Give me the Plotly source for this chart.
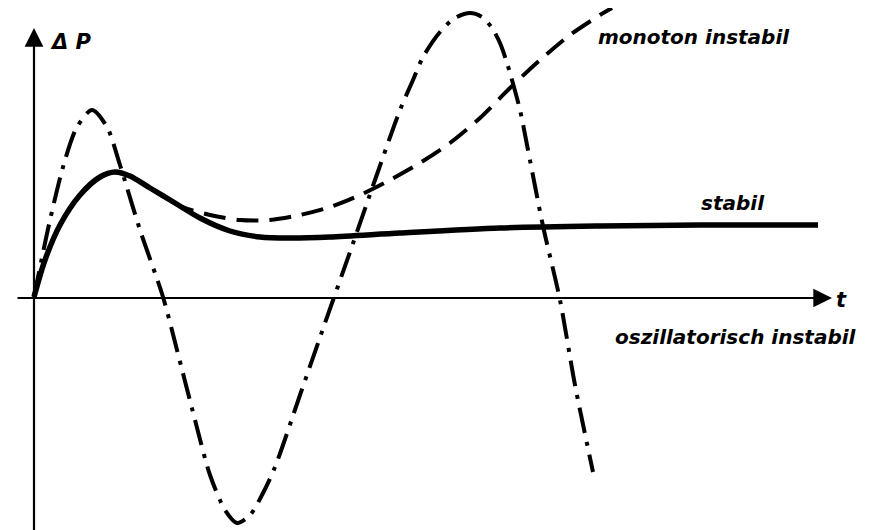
import plotly.graph_objects as go

# Stable response
t_stabil = [0, 1.1, 2.6, 4.6, 6.6, 8.1, 9.6, 11.6, 14.1, 16.6, 19.6, 22.6, 25.6, 29.6, 36.6, 46.6, 56.6, 66.6, 78.4]
p_stabil = [0, 3.7, 7.2, 10.2, 12.0, 12.5, 12.1, 10.9, 9.4, 7.9, 6.6, 6.0, 5.9, 6.0, 6.4, 6.9, 7.1, 7.2, 7.2]

# Monotonically unstable response
t_monoton = [8.1, 9.6, 11.6, 14.6, 17.6, 20.6, 23.6, 26.6, 29.6, 32.6, 35.6, 38.6, 41.6, 44.6, 47.6, 50.6, 53.6, 56.6, 57.8]
p_monoton = [12.5, 12.1, 10.9, 9.1, 8.2, 7.7, 7.7, 8.2, 9.0, 10.2, 11.7, 13.4, 15.4, 17.9, 20.9, 23.7, 26.2, 28.2, 28.9]

# Oscillatory unstable response
t_osz = [0, 1.6, 3.1, 4.3, 5.8, 7.3, 8.6, 10.6, 12.9, 14.3, 16.1, 17.6, 19.1, 20.3, 21.6, 22.8, 24.1,
         26.6, 29.1, 31.6, 34.1, 36.6, 37.9, 38.9, 40.6, 42.1, 43.6, 44.8, 45.8, 46.6, 47.3, 48.6,
         49.4, 50.9, 52.6, 54.1, 55.9]
p_osz = [0, 7.7, 13.7, 17.0, 18.7, 17.0, 13.2, 6.7, 0, -5.3, -12.3, -17.8, -21.3, -22.6, -21.8, -19.8, -17.0,
         -9.8, -2.6, 4.5, 11.7, 18.7, 21.7, 24.0, 26.5, 27.9, 28.4, 28.0, 26.9, 25.4, 23.4, 18.7,
         14.7, 7.1, -0.3, -8.8, -17.5]

labels = ["stabil", "monoton instabil", "oszillatorisch instabil"]

# page body has an 8px margin, so the visible window starts 8px into the figure
X_RANGE = [-2.6, 85.4]
Y_RANGE = [-24.1, 28.9]

fig = go.Figure()
fig.add_trace(go.Scatter(x=t_osz, y=p_osz, mode="lines", line=dict(color="black", width=4,
                         dash="26px,9px,4px,9px", shape="spline", smoothing=0.8), name=labels[2]))
fig.add_trace(go.Scatter(x=t_monoton, y=p_monoton, mode="lines", line=dict(color="black", width=4,
                         dash="22px,11px", shape="spline", smoothing=0.8), name=labels[1]))
fig.add_trace(go.Scatter(x=t_stabil, y=p_stabil, mode="lines", line=dict(color="black", width=5.5,
                         shape="spline", smoothing=0.8), name=labels[0]))

font = dict(family="DejaVu Sans", size=20, color="black")
ann = [
    # vertical axis arrow
    dict(x=0, y=26.9, ax=0, ay=-24.5, xref="x", yref="y", axref="x", ayref="y",
         showarrow=True, arrowhead=2, arrowsize=1.7, arrowwidth=2.2, arrowcolor="black", text=""),
    # horizontal axis arrow
    dict(x=79.8, y=-0.1, ax=-1.8, ay=-0.1, xref="x", yref="y", axref="x", ayref="y",
         showarrow=True, arrowhead=2, arrowsize=1.7, arrowwidth=2.2, arrowcolor="black", text=""),
    dict(x=1.4, y=25.5, text="<b><i>Δ P</i></b>", showarrow=False, xanchor="left",
         font=dict(family="DejaVu Sans", size=21, color="black")),
    dict(x=80.0, y=-0.3, text="<b><i>t</i></b>", showarrow=False, xanchor="left",
         font=dict(family="DejaVu Sans", size=21, color="black")),
    dict(x=56.2, y=26.0, text="<b><i>" + labels[1] + "</i></b>", showarrow=False, xanchor="left", font=font),
    dict(x=66.5, y=9.4, text="<b><i>" + labels[0] + "</i></b>", showarrow=False, xanchor="left", font=font),
    dict(x=57.9, y=-4.0, text="<b><i>" + labels[2] + "</i></b>", showarrow=False, xanchor="left", font=font),
]

fig.update_layout(
    width=880, height=530, margin=dict(l=0, r=0, t=0, b=0),
    paper_bgcolor="white", plot_bgcolor="white", showlegend=False,
    xaxis=dict(range=X_RANGE, visible=False, fixedrange=True),
    yaxis=dict(range=Y_RANGE, visible=False, fixedrange=True),
    annotations=ann,
)
fig.write_html("out.html")
